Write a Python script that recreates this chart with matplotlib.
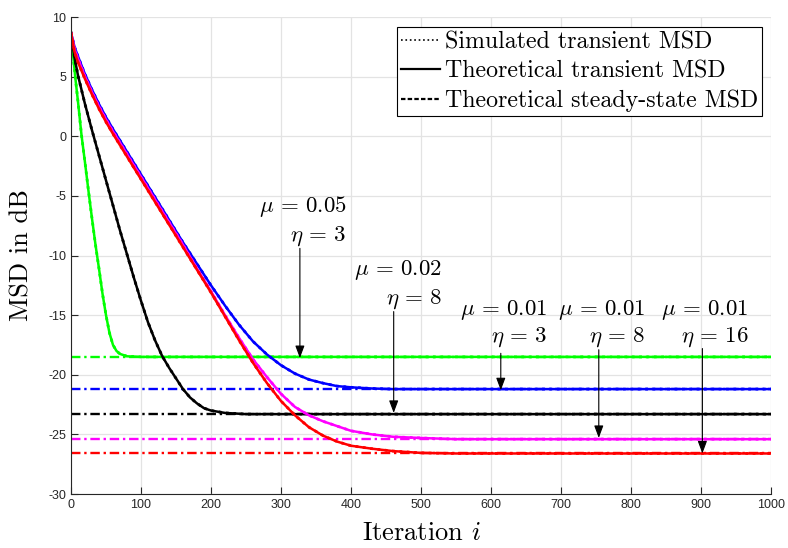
import matplotlib
matplotlib.use('Agg')
import matplotlib.pyplot as plt
from matplotlib.lines import Line2D

plt.rcParams['font.family'] = 'Liberation Sans'
plt.rcParams['mathtext.fontset'] = 'cm'
plt.rcParams['axes.unicode_minus'] = False

# values (MSD in dB)
it_green = [0, 3, 6, 10, 15, 20, 25, 30, 35, 40, 45, 50, 55, 60, 65, 70, 80, 100, 1000]
msd_green = [8.7, 6.8, 5.0, 2.9, 0.1, -2.2, -4.6, -6.9, -9.1, -11.1, -13.2, -15.0,
             -16.5, -17.5, -18.0, -18.25, -18.45, -18.5, -18.5]

it_black = [0, 5, 10, 20, 30, 40, 50, 60, 70, 80, 90, 100, 110, 120, 130, 140, 150,
            160, 170, 180, 190, 200, 220, 250, 1000]
msd_black = [8.7, 6.6, 5.1, 2.7, 0.5, -1.6, -3.7, -5.8, -7.9, -9.9, -11.9, -13.8,
             -15.6, -17.1, -18.4, -19.4, -20.3, -21.2, -21.9, -22.4, -22.8, -23.0,
             -23.2, -23.3, -23.3]

it_slow = [0, 5, 10, 20, 30, 40, 50, 60, 80, 100, 120, 140, 160, 180, 200, 220, 240,
           260, 280, 300, 320, 340, 360, 380, 400, 430, 460, 500, 550, 1000]
msd_blue = [8.7, 7.5, 6.7, 5.2, 3.9, 2.7, 1.6, 0.6, -1.3, -3.2, -5.1, -7.0, -8.9,
            -10.7, -12.5, -14.2, -15.8, -17.2, -18.3, -19.2, -19.9, -20.4, -20.7,
            -20.95, -21.05, -21.15, -21.2, -21.2, -21.2, -21.2]
msd_magenta = [8.7, 7.3, 6.5, 5.0, 3.7, 2.5, 1.4, 0.4, -1.5, -3.4, -5.3, -7.2, -9.1,
               -11.1, -13.0, -15.0, -16.9, -18.7, -20.2, -21.6, -22.7, -23.4, -23.9,
               -24.3, -24.7, -25.0, -25.2, -25.3, -25.4, -25.4]
msd_red = [8.7, 7.1, 6.2, 4.8, 3.5, 2.3, 1.2, 0.2, -1.7, -3.6, -5.5, -7.4, -9.3,
           -11.2, -13.1, -15.1, -17.1, -19.0, -20.7, -22.2, -23.4, -24.4, -25.1,
           -25.6, -25.95, -26.2, -26.4, -26.55, -26.6, -26.6]

steady = {'g': -18.5, 'b': -21.2, 'k': -23.3, 'm': -25.4, 'r': -26.6}
colors = {'g': '#00ff00', 'b': '#0000ff', 'k': '#000000', 'm': '#ff00ff', 'r': '#ff0000'}

curves = [('g', it_green, msd_green), ('b', it_slow, msd_blue), ('k', it_black, msd_black),
          ('m', it_slow, msd_magenta), ('r', it_slow, msd_red)]

# annotations: (mu text, eta text, text right x, mu baseline, eta baseline, arrow x, tail y, head y)
notes = [
    (r'$\mu\,=\,0.05$', r'$\eta\,=\,3$', 394, -6.35, -8.76, 327, -9.4, -18.6),
    (r'$\mu\,=\,0.02$', r'$\eta\,=\,8$', 530, -11.6, -14.0, 461, -14.7, -23.2),
    (r'$\mu\,=\,0.01$', r'$\eta\,=\,3$', 680, -15.0, -17.2, 614, -18.2, -21.3),
    (r'$\mu\,=\,0.01$', r'$\eta\,=\,8$', 820, -15.0, -17.2, 754, -17.9, -25.3),
    (r'$\mu\,=\,0.01$', r'$\eta\,=\,16$', 968, -15.0, -17.2, 902, -17.8, -26.6),
]

fig = plt.figure(figsize=(7.88, 5.48), dpi=100)
ax = fig.add_axes([0.0901, 0.0985, 0.8883, 0.8704])

dashdot = (0, (4, 1.6, 1, 1.6))
for c, x, y in curves:
    ax.plot([0, 1000], [steady[c], steady[c]], color=colors[c], lw=1.7, linestyle=dashdot)
for c, x, y in curves:
    ax.plot(x, y, color=colors[c], lw=1.8, linestyle='-')
    ax.plot(x, y, color=colors[c], lw=2.0, linestyle=':')

for mu, eta, tx, ymu, yeta, ax_x, ytail, yhead in notes:
    ax.text(tx, ymu, mu, ha='right', va='baseline', fontsize=16.5)
    ax.text(tx, yeta, eta, ha='right', va='baseline', fontsize=16.5)
    ax.annotate('', xy=(ax_x, yhead), xytext=(ax_x, ytail),
                arrowprops=dict(arrowstyle='-|>,head_length=0.75,head_width=0.28',
                                color='black', lw=0.8, shrinkA=0, shrinkB=0))

ax.set_xlim(0, 1000)
ax.set_ylim(-30, 10)
ax.set_xticks(range(0, 1001, 100))
ax.set_yticks(range(-30, 11, 5))
ax.grid(True, color='#e3e3e3', lw=0.9)
ax.set_axisbelow(True)
ax.spines['top'].set_visible(False)
ax.spines['right'].set_visible(False)
ax.tick_params(direction='in', length=5, labelsize=9, colors='#262626', width=0.8)
for s in ['left', 'bottom']:
    ax.spines[s].set_color('#262626')

ax.set_xlabel(r'Iteration $i$', fontfamily='cmr10', fontsize=19)
ax.set_ylabel('MSD in dB', fontfamily='cmr10', fontsize=19)
ax.xaxis.set_label_coords(0.5, -0.058, transform=ax.transAxes)
ax.xaxis.label.set_va('top')
ax.yaxis.set_label_coords(-0.054, 0.5)

handles = [Line2D([], [], color='k', lw=1.2, linestyle=':'),
           Line2D([], [], color='k', lw=1.6, linestyle='-'),
           Line2D([], [], color='k', lw=1.6, linestyle=(0, (2, 1, 2, 1)))]
labels = ['Simulated transient MSD', 'Theoretical transient MSD',
          'Theoretical steady-state MSD']
leg = ax.legend(handles, labels, loc='upper right', bbox_to_anchor=(0.987, 0.979),
                borderaxespad=0, fancybox=False, framealpha=1, edgecolor='black',
                prop={'family': 'cmr10', 'size': 17.2}, handlelength=1.65,
                handletextpad=0.2, labelspacing=0.3, borderpad=0.16)
leg.get_frame().set_linewidth(0.8)

fig.savefig('out.png', dpi=100)
